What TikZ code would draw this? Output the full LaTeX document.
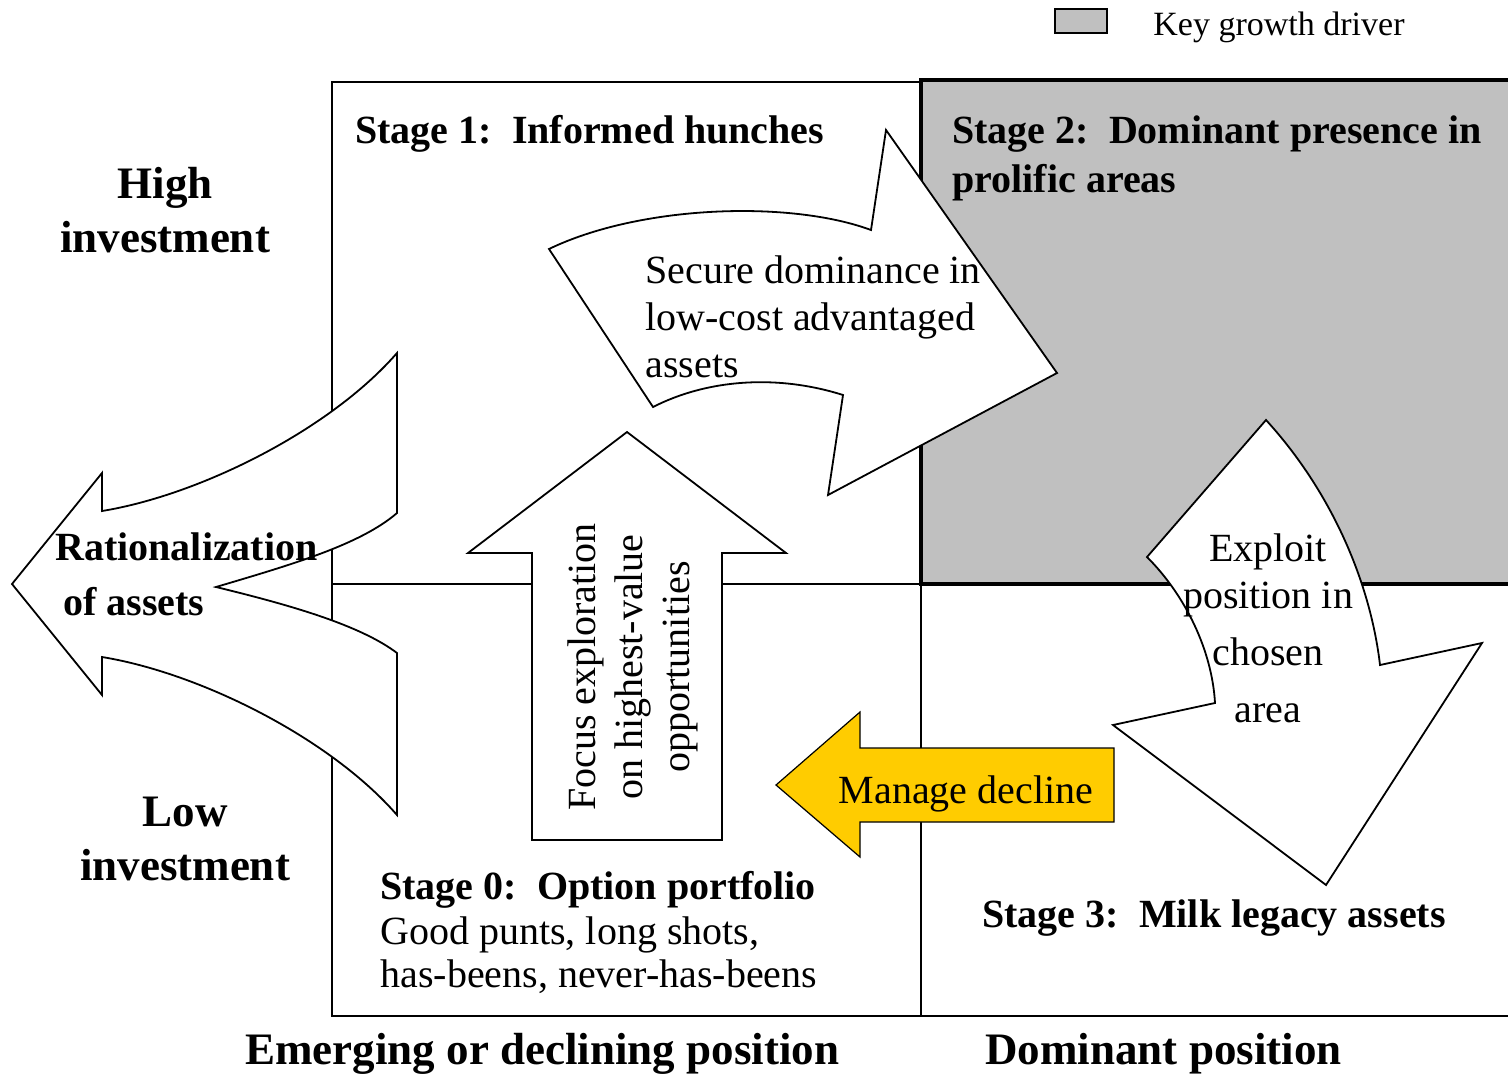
\documentclass[tikz,border=0pt]{standalone}
\usepackage{fontspec}
\setmainfont{Liberation Serif}

\definecolor{keygray}{HTML}{C0C0C0}
\definecolor{declineyellow}{HTML}{FFCC00}

\tikzset{
  bigarrow/.style={draw, fill=white, line width=0.9pt, line join=miter},
  gridline/.style={line width=1.1pt},
  txt/.style={font=\fontsize{20}{23.5}\selectfont, inner sep=0pt},
  boldtxt/.style={font=\fontsize{20}{23.5}\selectfont\bfseries, inner sep=0pt},
  axistxt/.style={font=\fontsize{22.5}{27}\selectfont\bfseries, inner sep=0pt}
}

\begin{document}
\begin{tikzpicture}[x=0.5pt, y=-0.5pt]
\useasboundingbox (0,0) rectangle (1508,1076);

% legend
\draw[line width=1pt, fill=keygray] (1055,9) rectangle (1107,33);
\node[anchor=base west, inner sep=0pt, font=\fontsize{17}{20}\selectfont] (keylabel) at (1153,35) {Key growth driver};

% quadrants
\fill[keygray] (921,80) rectangle (1508,584);
\draw[gridline] (921,82) -- (332,82) -- (332,1016) -- (1508,1016);
\draw[gridline] (332,584) -- (921,584);
\draw[gridline] (921,82) -- (921,1016);
\draw[line width=1.8pt] (1508,80) -- (921,80) -- (921,584) -- (1508,584);

% arrows
\draw[bigarrow] (12,584) -- (102,473) -- (102,511)
  .. controls (200,495) and (330,430) .. (397,353) -- (397,513)
  .. controls (360,545) and (290,565) .. (216,587)
  .. controls (290,605) and (360,625) .. (397,653) -- (397,815)
  .. controls (330,738) and (200,673) .. (102,657) -- (102,695) -- cycle;
\draw[bigarrow] (549,249) .. controls (640,205) and (790,200) .. (871,230)
  -- (886,130) -- (1057,373) -- (828,495) -- (843,395)
  .. controls (780,375) and (710,378) .. (653,407) -- cycle;
\draw[bigarrow] (532,840) -- (532,553) -- (468,553) -- (627,432) -- (786,553)
  -- (722,553) -- (722,840) -- cycle;
\draw[bigarrow] (1266,420) -- (1147,557) .. controls (1185,595) and (1212,650) .. (1215,703)
  -- (1113,725) -- (1326,885) -- (1482,643) -- (1380,665)
  .. controls (1370,580) and (1330,490) .. cycle;
\draw[fill=declineyellow, line width=0.6pt] (776,785) -- (860,712) -- (860,748) -- (1114,748)
  -- (1114,822) -- (860,822) -- (860,857) -- cycle;

% stage labels (base = last line)
\node[boldtxt, anchor=base west] (stageone) at (355,143) {Stage 1:\ \ Informed hunches};
\node[boldtxt, anchor=base west, align=left] (stagetwo) at (952,192) {Stage 2:\ \ Dominant presence in\\[1pt]prolific areas};
\node[boldtxt, anchor=base west] (stagezero) at (380,899) {Stage 0:\ \ Option portfolio};
\node[txt, anchor=base west, align=left] (stagezerotxt) at (380,987) {Good punts, long shots,\\[-2pt]has-beens, never-has-beens};
\node[boldtxt, anchor=base west] (stagethree) at (982,927) {Stage 3:\ \ Milk legacy assets};

% axis labels
\node[axistxt, anchor=base, align=center] (highinv) at (165,252) {High\\investment};
\node[axistxt, anchor=base, align=center] (lowinv) at (185,880) {Low\\investment};
\node[axistxt, anchor=base west] (emerging) at (245,1064) {Emerging or declining position};
\node[axistxt, anchor=base west] (dominant) at (985,1064) {Dominant position};

% arrow labels
\node[txt, anchor=base west, align=left] (securetxt) at (645,377) {Secure dominance in\\low-cost advantaged\\assets};
\node[txt, rotate=90, align=center] (focustxt) at (633,667) {Focus exploration\\on highest-value\\opportunities};
\node[txt, anchor=base, align=center] (exploittxt) at (1268,722) {Exploit\\position in\\[5pt]chosen\\[5pt]area};
\node[txt, anchor=base] (managetxt) at (966,803) {Manage decline};
\node[boldtxt, anchor=base west, align=left] (ratiotxt) at (55,615) {Rationalization\\[4pt]\hspace{4pt}of assets};

\end{tikzpicture}
\end{document}
